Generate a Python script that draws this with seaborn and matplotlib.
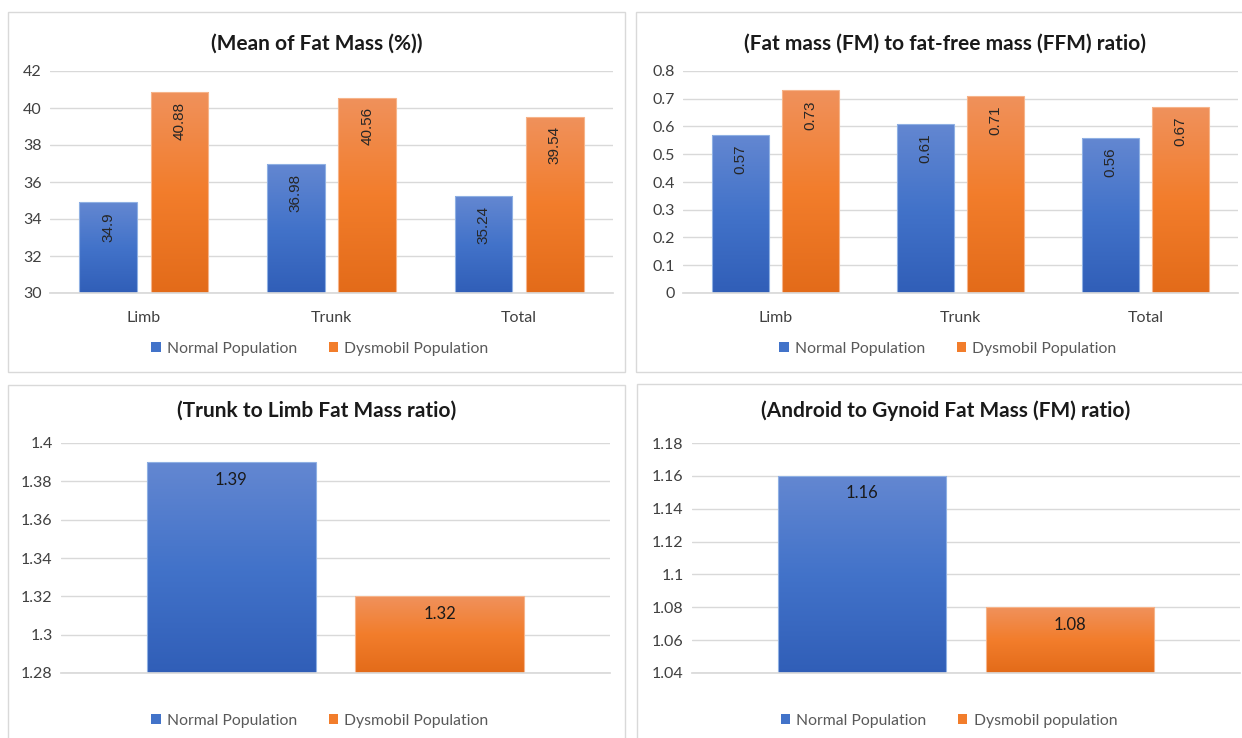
import numpy as np
import pandas as pd
import matplotlib
matplotlib.use("Agg")
import matplotlib.pyplot as plt
import seaborn as sns
from matplotlib.patches import Rectangle, Patch
from matplotlib.colors import to_rgb

# data
regions = ["Limb", "Trunk", "Total"]
fm_pct_normal = [34.9, 36.98, 35.24]
fm_pct_dysmobil = [40.88, 40.56, 39.54]
fm_ffm_normal = [0.57, 0.61, 0.56]
fm_ffm_dysmobil = [0.73, 0.71, 0.67]
trunk_limb = [1.39, 1.32]
android_gynoid = [1.16, 1.08]
groups = ["Normal Population", "Dysmobil Population"]
groups_ag = ["Normal Population", "Dysmobil population"]

titles = ["(Mean of Fat Mass (%))",
          "(Fat mass (FM) to fat-free mass (FFM) ratio)",
          "(Trunk to Limb Fat Mass ratio)",
          "(Android to Gynoid Fat Mass (FM) ratio)"]

sns.set_theme(style="white")
plt.rcParams["font.family"] = ["Lato", "DejaVu Sans"]

BLUE = "#4472C4"
ORANGE = "#ED7D31"
GRAD = {
    BLUE: [(0.39, 0.53, 0.82), (0.26, 0.45, 0.79), (0.19, 0.37, 0.72)],
    ORANGE: [(0.94, 0.57, 0.36), (0.95, 0.49, 0.17), (0.89, 0.42, 0.10)],
}
EDGE = {BLUE: "#8fb0e3", ORANGE: "#f6b48a"}
GRID = "#d9d9d9"
TXT = "#404040"
LEG = "#595959"

W, H = 1242, 738
fig = plt.figure(figsize=(W / 100, H / 100), dpi=100)


def fx(px):
    return px / W


def fy(py):
    return 1 - py / H


# panel frames (pixel boxes)
for (x0, y0, x1, y1) in [(8, 12, 625, 372), (636, 12, 1250, 372),
                         (8, 385, 625, 750), (637, 384, 1250, 750)]:
    fig.patches.append(Rectangle((fx(x0), fy(y1)), fx(x1 - x0), (y1 - y0) / H,
                                 transform=fig.transFigure, fill=False,
                                 edgecolor=GRID, linewidth=1))


def gradient_bars(ax):
    ymin = ax.get_ylim()[0]
    xl, yl = ax.get_xlim(), ax.get_ylim()
    for p in list(ax.patches):
        col = BLUE if np.allclose(to_rgb(p.get_facecolor()), to_rgb(BLUE), atol=0.02) else ORANGE
        x, w = p.get_x(), p.get_width()
        top = p.get_y() + p.get_height()
        bot = max(p.get_y(), ymin)
        stops = np.array(GRAD[col])
        t = np.linspace(0, 1, 200)
        grad = np.stack([np.interp(t, [0, 0.5, 1], stops[:, k]) for k in range(3)], axis=1)
        im = ax.imshow(grad[:, None, :], extent=[x, x + w, bot, top], origin="upper",
                       aspect="auto", zorder=1.5, interpolation="bilinear")
        im.set_clip_path(p)
        p.set_facecolor("none")
        p.set_edgecolor(EDGE[col])
        p.set_linewidth(0.8)
        p.set_zorder(2)
    ax.set_xlim(xl)
    ax.set_ylim(yl)


def style_axis(ax, ticks):
    ax.set_yticks(ticks)
    ax.set_yticklabels([f"{round(v, 4):g}" for v in ticks], color=TXT, fontsize=11.5)
    ax.yaxis.grid(True, color=GRID, linewidth=1)
    ax.set_axisbelow(True)
    for s in ["left", "right", "top"]:
        ax.spines[s].set_visible(False)
    ax.spines["bottom"].set_color(GRID)
    ax.tick_params(axis="both", length=0, pad=6)
    ax.set_xlabel("")
    ax.set_ylabel("")


def add_legend(cx, cy, labels):
    handles = [Patch(facecolor=GRAD[BLUE][1], edgecolor="none"),
               Patch(facecolor=GRAD[ORANGE][1], edgecolor="none")]
    fig.legend(handles, labels, loc="center", bbox_to_anchor=(fx(cx), fy(cy)),
               ncol=2, frameon=False, fontsize=11.3, labelcolor=LEG,
               handlelength=0.6, handleheight=0.6, handletextpad=0.4,
               columnspacing=2.0)


# ---- top panels: grouped bars with rotated labels
top_specs = [
    ((50, 71, 613, 293), fm_pct_normal, fm_pct_dysmobil, (30, 42), np.arange(30, 42.1, 2), 317),
    ((683, 71, 1238, 293), fm_ffm_normal, fm_ffm_dysmobil, (0, 0.8), np.arange(0, 0.81, 0.1), 945),
]
for i, (box, norm, dys, ylim, ticks, tcx) in enumerate(top_specs):
    x0, y0, x1, y1 = box
    ax = fig.add_axes([fx(x0), fy(y1), fx(x1 - x0), (y1 - y0) / H])
    df = pd.DataFrame({"region": regions * 2,
                       "value": norm + dys,
                       "group": [groups[0]] * 3 + [groups[1]] * 3})
    sns.barplot(data=df, x="region", y="value", hue="group", hue_order=groups,
                palette=[BLUE, ORANGE], width=0.76, gap=0.19, legend=False,
                saturation=1, ax=ax)
    ax.set_ylim(*ylim)
    style_axis(ax, ticks)
    ax.tick_params(axis="x", labelsize=11.5, labelcolor=TXT, pad=13)
    gradient_bars(ax)
    for p in ax.patches:
        v = p.get_y() + p.get_height()
        ax.annotate(f"{round(v, 2):g}", (p.get_x() + p.get_width() / 2, v),
                    xytext=(0, -7), textcoords="offset points", rotation=90,
                    ha="center", va="top", fontsize=11, color="#262626",
                    fontfamily=["Liberation Sans", "DejaVu Sans"], zorder=5)
    fig.text(fx(tcx), fy(44), titles[i], ha="center", va="center",
             fontsize=15, fontweight="bold", color="#1a1a1a")
    add_legend(tcx + 3, 349, groups)

# ---- bottom panels: two bars, horizontal labels
bot_specs = [
    ((61, 443, 610, 673), trunk_limb, (1.28, 1.40), np.arange(1.28, 1.401, 0.02), 317, groups),
    ((692, 443, 1240, 673), android_gynoid, (1.04, 1.18), np.arange(1.04, 1.181, 0.02), 946, groups_ag),
]
for j, (box, vals, ylim, ticks, tcx, labs) in enumerate(bot_specs):
    x0, y0, x1, y1 = box
    ax = fig.add_axes([fx(x0), fy(y1), fx(x1 - x0), (y1 - y0) / H])
    df = pd.DataFrame({"cat": ["ratio", "ratio"], "value": vals, "group": groups})
    sns.barplot(data=df, x="cat", y="value", hue="group", hue_order=groups,
                palette=[BLUE, ORANGE], width=0.76, gap=0.19, legend=False,
                saturation=1, ax=ax)
    ax.set_ylim(*ylim)
    style_axis(ax, ticks)
    ax.set_xticks([])
    gradient_bars(ax)
    for p in ax.patches:
        v = p.get_y() + p.get_height()
        ax.annotate(f"{round(v, 2):g}", (p.get_x() + p.get_width() / 2, v),
                    xytext=(0, -12.5), textcoords="offset points",
                    ha="center", va="center", fontsize=12, color="#1a1a1a", zorder=5)
    fig.text(fx(tcx), fy(411), titles[2 + j], ha="center", va="center",
             fontsize=15, fontweight="bold", color="#1a1a1a")
    add_legend(tcx + 3, 721, labs)

fig.savefig("out.png", dpi=100, facecolor="white")
